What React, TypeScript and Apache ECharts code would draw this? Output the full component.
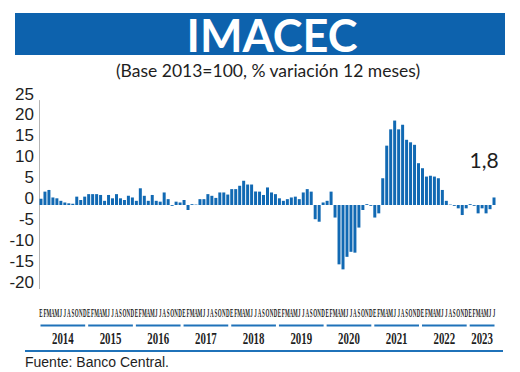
import React, { useEffect, useRef } from "react";
import * as echarts from "echarts";

const months = ["E", "F", "M", "A", "M", "J", "J", "A", "S", "O", "N", "D"];
const years = ["2014", "2015", "2016", "2017", "2018", "2019", "2020", "2021", "2022", "2023"];

const v2014 = [1.5, 3.2, 3.6, 1.8, 1.6, 1.0, 0.6, 0.4, 0.3, 2.0, 1.2, 2.0];
const v2015 = [2.6, 2.6, 2.6, 2.4, 1.0, 2.4, 1.6, 2.6, 1.6, 1.2, 2.2, 1.8];
const v2016 = [1.0, 4.0, 2.2, 1.0, 2.4, 1.0, 0.8, 3.0, 1.4, -0.2, 0.8, 0.6];
const v2017 = [1.2, -1.2, 0.2, 0.1, 1.4, 1.4, 2.6, 2.2, 1.7, 3.0, 3.0, 2.5];
const v2018 = [3.8, 3.8, 4.6, 5.8, 4.9, 4.9, 3.2, 3.2, 2.4, 4.2, 3.0, 2.6];
const v2019 = [1.6, 1.0, 1.4, 1.8, 2.0, 1.4, 3.0, 3.8, 3.2, -3.4, -4.0, 0.6];
const v2020 = [1.0, 3.2, -3.0, -14.2, -15.4, -12.4, -11.2, -11.4, -5.4, -1.2, 0.2, -0.2];
const v2021 = [-3.0, -2.0, 6.4, 14.2, 18.1, 20.2, 18.1, 19.2, 15.6, 15.0, 14.4, 10.0];
const v2022 = [8.8, 6.8, 7.0, 6.8, 6.4, 3.6, 1.0, 0.1, -0.2, -0.8, -2.4, -0.8];
const v2023 = [0.2, -0.2, -2.0, -0.8, -2.0, -1.0, 1.8];

const yearValues = [v2014, v2015, v2016, v2017, v2018, v2019, v2020, v2021, v2022, v2023];
const lastLabel = "1,8";

const categories: string[] = [];
const monthLetters: string[] = [];
const values: number[] = [];
const yearSpans: number[][] = [];
yearValues.forEach((vals, k) => {
  const start = categories.length;
  vals.forEach((v, m) => {
    categories.push(`${months[m]} ${years[k]}`);
    monthLetters.push(months[m]);
    values.push(v);
  });
  yearSpans.push([start, -20, categories.length - 1]);
});

const BLUE = "#1169b3";
const LINE_BLUE = "#1f72b9";
const DARK = "#1e1e1e";

export default function App() {
  const ref = useRef<HTMLDivElement>(null);
  useEffect(() => {
    if (!ref.current) return;
    const chart = echarts.init(ref.current, null, { renderer: "svg" });
    const barData = values.map((v, i) =>
      i === values.length - 1
        ? {
            value: v,
            label: {
              show: true,
              position: "top",
              distance: 27,
              offset: [-10, 0],
              formatter: lastLabel,
              fontSize: 21,
              fontFamily: "Lato",
              color: DARK,
            },
          }
        : v
    );
    chart.setOption({
      animation: false,
      backgroundColor: "#ffffff",
      grid: { left: 39, right: 24, top: 100.5, bottom: 83.4, containLabel: false },
      xAxis: {
        type: "category",
        data: categories,
        boundaryGap: true,
        axisLine: { show: false },
        axisTick: { show: false },
        axisLabel: { show: false },
        splitLine: { show: false },
      },
      yAxis: {
        type: "value",
        min: -20,
        max: 25,
        interval: 5,
        axisLine: { show: true, lineStyle: { color: "#b5b5b5", width: 1 } },
        axisTick: { show: false },
        splitLine: { show: false },
        axisLabel: {
          fontSize: 17,
          fontFamily: "Liberation Sans",
          color: DARK,
          margin: 5,
          verticalAlign: "bottom",
          lineHeight: 13,
        },
      },
      graphic: [
        { type: "rect", shape: { x: 15, y: 13, width: 490, height: 42 }, style: { fill: "#0d62ad" } },
        {
          type: "text",
          x: 272,
          y: 35,
          style: {
            text: "IMACEC",
            fill: "#ffffff",
            fontSize: 45,
            fontWeight: "bold",
            fontFamily: "Lato",
            textAlign: "center",
            textVerticalAlign: "middle",
          },
        },
        {
          type: "text",
          x: 268,
          y: 70,
          style: {
            text: "(Base 2013=100, % variación 12 meses)",
            fill: DARK,
            fontSize: 17.5,
            fontFamily: "Lato",
            textAlign: "center",
            textVerticalAlign: "middle",
          },
        },
        {
          type: "line",
          shape: { x1: 25, y1: 351, x2: 503, y2: 351 },
          style: { stroke: LINE_BLUE, lineWidth: 2 },
        },
        {
          type: "text",
          x: 25,
          y: 362,
          style: {
            text: "Fuente: Banco Central.",
            fill: DARK,
            fontSize: 14,
            fontFamily: "Liberation Sans",
            textAlign: "left",
            textVerticalAlign: "middle",
          },
        },
      ],
      series: [
        {
          type: "bar",
          data: barData,
          barWidth: 3,
          itemStyle: { color: BLUE },
        },
        {
          type: "custom",
          silent: true,
          clip: false,
          data: monthLetters.map((_, i) => [i, -20]),
          encode: { x: 0, y: 1 },
          renderItem: (params: any, api: any) => {
            const idx = api.value(0);
            const p = api.coord([idx, -20]);
            return {
              type: "text",
              x: p[0],
              y: p[1] + 24.6,
              scaleX: 0.42,
              style: {
                text: monthLetters[idx],
                fill: DARK,
                fontSize: 12,
                fontWeight: "bold",
                fontFamily: "Liberation Sans Narrow",
                textAlign: "center",
                textVerticalAlign: "middle",
              },
            };
          },
        },
        {
          type: "custom",
          silent: true,
          clip: false,
          data: yearSpans,
          encode: { x: 0, y: 1 },
          renderItem: (params: any, api: any) => {
            const s = api.value(0);
            const e = api.value(2);
            const band = api.size([1, 0])[0];
            const p1 = api.coord([s, -20]);
            const p2 = api.coord([e, -20]);
            const x1 = p1[0] - band / 2 + 1.5;
            const x2 = p2[0] + band / 2 - 1.5;
            const yb = p1[1];
            return {
              type: "group",
              children: [
                {
                  type: "line",
                  shape: { x1, y1: yb + 36.9, x2, y2: yb + 36.9 },
                  style: { stroke: LINE_BLUE, lineWidth: 2 },
                },
                {
                  type: "text",
                  x: (x1 + x2) / 2,
                  y: yb + 50.6,
                  scaleX: 0.68,
                  style: {
                    text: years[params.dataIndex],
                    fill: DARK,
                    fontSize: 16,
                    fontWeight: "bold",
                    fontFamily: "Liberation Sans Narrow",
                    textAlign: "center",
                    textVerticalAlign: "middle",
                  },
                },
              ],
            };
          },
        },
      ],
    });
    return () => chart.dispose();
  }, []);
  return (
    <div
      ref={ref}
      style={{ position: "absolute", left: 0, top: 0, width: 520, height: 372 }}
    />
  );
}
